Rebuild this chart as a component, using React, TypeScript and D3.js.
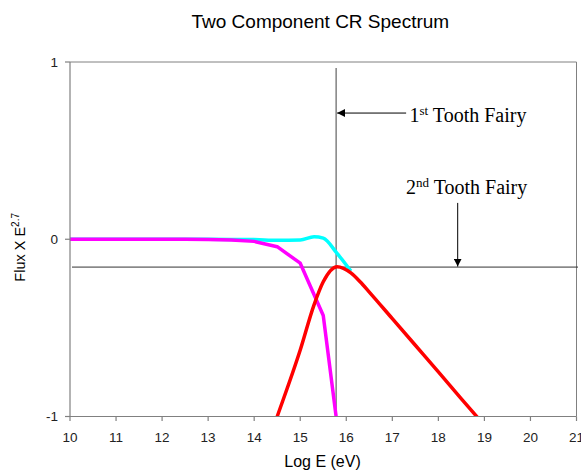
import React from "react";
import * as d3 from "d3";

// Flux x E^2.7 versus log10 energy for the two cosmic-ray components and their sum
const magentaLogE = [10, 10.5, 11, 11.5, 12, 12.5, 13, 13.5, 14, 14.5, 15, 15.5, 16];
const magentaFlux = [0, 0, 0, 0, 0, 0, -0.001, -0.004, -0.012, -0.042, -0.135, -0.43, -1.45];

const cyanLogE = [10, 11, 12, 13, 13.5, 14, 14.5, 15, 15.3, 15.5, 15.8, 16, 16.1];
const cyanFlux = [0, 0, 0, 0, -0.001, -0.002, -0.006, -0.004, 0.014, 0.006, -0.08, -0.145, -0.18];

const redLogE = [14, 14.5, 15, 15.3, 15.5, 15.8, 16.1, 16.3, 16.5, 17, 17.5, 18, 18.5, 19];
const redFlux = [-1.36, -1.0, -0.625, -0.37, -0.24, -0.155, -0.19, -0.24, -0.298, -0.448, -0.598, -0.748, -0.9, -1.05];

const xTicks = [10, 11, 12, 13, 14, 15, 16, 17, 18, 19, 20, 21];
const yTicks = [1, 0, -1];

// Knee markers
const firstFairyLogE = 15.78;
const secondFairyFlux = -0.157;
const secondArrowLogE = 18.42;
const secondArrowTopFlux = 0.205;
const firstArrowStartLogE = 17.3;
const firstArrowFlux = 0.712;

const W = 581;
const H = 470;
const left = 70;
const right = 576.5;
const top = 62;
const bottom = 416.5;

export default function App() {
  const x = d3.scaleLinear().domain([10, 21]).range([left, right]);
  const y = d3.scaleLinear().domain([-1, 1]).range([bottom, top]);

  const lineOf = (xs: number[], ys: number[], curve: d3.CurveFactory) =>
    d3
      .line<number>()
      .x((_, i) => x(xs[i]))
      .y((_, i) => y(ys[i]))
      .curve(curve)(xs.map((_, i) => i)) as string;

  const cyanPath = lineOf(cyanLogE, cyanFlux, d3.curveMonotoneX);
  const magentaPath = lineOf(magentaLogE, magentaFlux, d3.curveLinear);
  const redPath = lineOf(redLogE, redFlux, d3.curveMonotoneX);

  const sans = "'Liberation Sans', Arial, sans-serif";
  const serif = "'Liberation Serif', 'Times New Roman', serif";

  return (
    <svg
      width={W}
      height={H}
      style={{ position: "absolute", left: 0, top: 0, display: "block", background: "#ffffff" }}
    >
      <defs>
        <clipPath id="plotClip">
          <rect x={left} y={top} width={right - left} height={bottom - top} />
        </clipPath>
        <marker
          id="arrowHead"
          viewBox="0 0 10 10"
          refX="10"
          refY="5"
          markerWidth="8"
          markerHeight="8"
          markerUnits="userSpaceOnUse"
          orient="auto"
        >
          <path d="M0,0 L10,5 L0,10 Z" fill="#000" />
        </marker>
      </defs>

      <text x={191.5} y={28.3} fontFamily={sans} fontSize={19} fill="#000">
        Two Component CR Spectrum
      </text>

      {/* plot frame */}
      <path
        d={`M${left},${top}H${right}V${bottom}`}
        fill="none"
        stroke="#808080"
        strokeWidth={1}
      />

      {/* first knee: vertical marker */}
      <line
        x1={x(firstFairyLogE)}
        x2={x(firstFairyLogE)}
        y1={68}
        y2={bottom}
        stroke="#808080"
        strokeWidth={1.5}
      />
      {/* second knee: horizontal marker */}
      <line
        x1={left + 2}
        x2={right + 1.5}
        y1={y(secondFairyFlux)}
        y2={y(secondFairyFlux)}
        stroke="#333"
        strokeWidth={1}
      />

      <g clipPath="url(#plotClip)" fill="none" strokeWidth={3.5} strokeLinejoin="round">
        <path d={cyanPath} stroke="#00ffff" />
        <path d={magentaPath} stroke="#ff00ff" />
        <path d={redPath} stroke="#ff0000" />
      </g>

      {/* axes */}
      <line x1={left} x2={left} y1={top} y2={bottom} stroke="#808080" strokeWidth={1.2} />
      <line x1={left} x2={right} y1={bottom} y2={bottom} stroke="#808080" strokeWidth={1.2} />
      {yTicks.map((t) => (
        <g key={`y${t}`}>
          <line x1={left - 5} x2={left} y1={y(t)} y2={y(t)} stroke="#808080" strokeWidth={1.2} />
          <text
            x={left - 12}
            y={y(t)}
            dy="0.35em"
            textAnchor="end"
            fontFamily={sans}
            fontSize={13.5}
            fill="#222"
          >
            {t}
          </text>
        </g>
      ))}
      {xTicks.map((t) => (
        <g key={`x${t}`}>
          <line x1={x(t)} x2={x(t)} y1={bottom} y2={bottom + 4.5} stroke="#808080" strokeWidth={1.2} />
          <text
            x={x(t)}
            y={442}
            textAnchor="middle"
            fontFamily={sans}
            fontSize={13.5}
            fill="#222"
          >
            {t}
          </text>
        </g>
      ))}

      <text x={322.5} y={467} textAnchor="middle" fontFamily={sans} fontSize={16} fill="#000">
        Log E (eV)
      </text>
      <text
        transform="translate(25,281.7) rotate(-90)"
        fontFamily={sans}
        fontSize={14.5}
        fill="#000"
      >
        Flux X E
        <tspan fontSize={10} dy={-6}>
          2.7
        </tspan>
      </text>

      {/* annotations */}
      <line
        x1={x(firstArrowStartLogE)}
        x2={x(firstFairyLogE) + 1}
        y1={y(firstArrowFlux)}
        y2={y(firstArrowFlux)}
        stroke="#000"
        strokeWidth={1}
        markerEnd="url(#arrowHead)"
      />
      <text x={409.5} y={121.7} fontFamily={serif} fontSize={20} fill="#000">
        1<tspan fontSize={13} dy={-7}>st</tspan>
        <tspan dy={7}> Tooth Fairy</tspan>
      </text>

      <line
        x1={x(secondArrowLogE)}
        x2={x(secondArrowLogE)}
        y1={y(secondArrowTopFlux)}
        y2={y(secondFairyFlux) - 0.5}
        stroke="#000"
        strokeWidth={1}
        markerEnd="url(#arrowHead)"
      />
      <text x={406} y={194} fontFamily={serif} fontSize={20} fill="#000">
        2<tspan fontSize={13} dy={-7}>nd</tspan>
        <tspan dy={7}> Tooth Fairy</tspan>
      </text>
    </svg>
  );
}
